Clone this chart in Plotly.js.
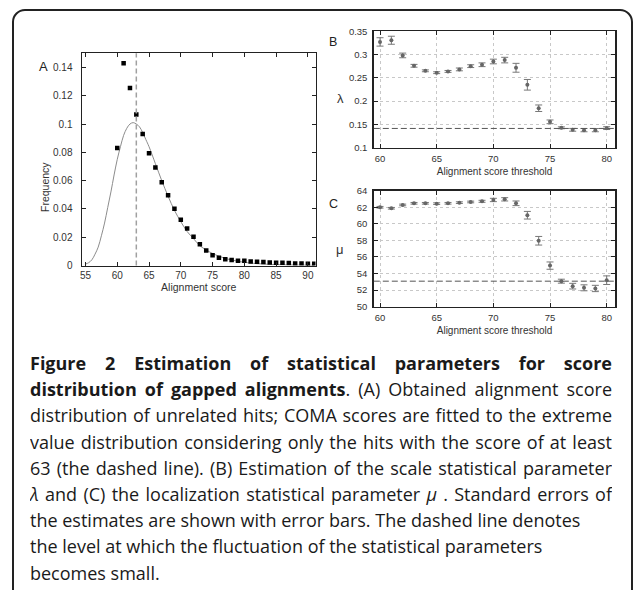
<!DOCTYPE html>
<html>
<head>
<meta charset="utf-8">
<script src="https://cdn.plot.ly/plotly-3.0.1.min.js"></script>
<style>
  html, body { margin: 0; padding: 0; background: #fff; }
  body { width: 637px; height: 590px; position: relative; overflow: hidden; }
  #frame { position: absolute; left: 12px; top: 9px; width: 621px; height: 640px;
           border: 2px solid #222; border-radius: 13px; box-sizing: border-box; }
  #plot { position: absolute; left: 0; top: 0; width: 637px; height: 590px; }
  #caption { position: absolute; left: 30px; top: 350px; width: 582px;
             font-family: "Open Sans", "Noto Sans", sans-serif; font-size: 18px;
             line-height: 26.2px; color: #1a1a1a; }
  #caption .ln { white-space: nowrap; }
  #caption .j { text-align: justify; text-align-last: justify; white-space: normal; height: 26.2px; overflow: hidden; }
  #caption b { font-weight: 700; }
</style>
</head>
<body>
<div id="frame"></div>
<div id="plot"></div>
<div id="caption"></div>
<script>
// ---------- Panel A: alignment score distribution ----------
const scoreA = [60,61,62,63,64,65,66,67,68,69,70,71,72,73,74,75,76,77,78,79,80,81,82,83,84,85,86,87,88,89,90,91];
const freqA  = [0.083,0.143,0.1254,0.1068,0.0929,0.0794,0.0693,0.0589,0.0497,0.0401,0.0323,0.0262,0.0203,0.0151,0.0106,0.0073,0.0054,0.0045,0.0038,0.0033,0.0033,0.0028,0.0026,0.0024,0.0021,0.0019,0.0019,0.0017,0.0014,0.0014,0.0012,0.0012];
const fitX = [55,55.5,56,56.5,57,57.5,58,58.5,59,59.5,60,60.5,61,61.5,62,62.5,63,63.5,64,64.5,65,66,67,68,69,70,71,72,73,74,75,76,77,78,79,80,82,84,86,88,91];
const fitY = [0.001,0.002,0.004,0.008,0.013,0.021,0.030,0.041,0.052,0.064,0.075,0.084,0.092,0.097,0.100,0.101,0.100,0.098,0.094,0.089,0.084,0.072,0.060,0.049,0.039,0.031,0.024,0.019,0.014,0.011,0.0085,0.0066,0.0050,0.0039,0.0030,0.0023,0.0013,0.0008,0.0005,0.0003,0.0001];
const cutoffA = 63;

// ---------- Panels B and C: parameters vs threshold ----------
const threshold = [60,61,62,63,64,65,66,67,68,69,70,71,72,73,74,75,76,77,78,79,80];
const lambdaVal = [0.327,0.3306,0.298,0.2758,0.265,0.261,0.2637,0.268,0.275,0.278,0.285,0.288,0.2715,0.235,0.1847,0.1555,0.1427,0.1384,0.1377,0.1377,0.142];
const lambdaErr = [0.009,0.0086,0.005,0.003,0.002,0.002,0.002,0.003,0.003,0.004,0.005,0.006,0.0095,0.0114,0.007,0.004,0.002,0.003,0.0035,0.0035,0.003];
const lambdaLevel = 0.1413;
const muVal = [62.0,61.88,62.28,62.48,62.48,62.44,62.48,62.56,62.64,62.72,62.88,62.96,62.48,61.04,57.96,54.96,53.08,52.48,52.28,52.2,53.2];
const muErr = [0.1,0.1,0.1,0.1,0.1,0.1,0.1,0.1,0.1,0.12,0.2,0.2,0.28,0.46,0.52,0.44,0.24,0.34,0.36,0.38,0.52];
const muLevel = 53.08;

const xTicksA = [55,60,65,70,75,80,85,90];
const yTicksA = [0,0.02,0.04,0.06,0.08,0.1,0.12,0.14];
const yTickTextA = ['0','0.02','0.04','0.06','0.08','0.1','0.12','0.14'];
const xTicksBC = [60,65,70,75,80];
const yTicksB = [0.1,0.15,0.2,0.25,0.3,0.35];
const yTicksC = [50,52,54,56,58,60,62,64];

const W = 637, H = 590;
const dx = (a,b) => [a/W, b/W];
const dy = (top,bottom) => [1-bottom/H, 1-top/H];

const FAM = 'Liberation Sans, Arial, sans-serif';
const tickFont = {family: FAM, size: 10, color: '#333'};
const tickFontS = {family: FAM, size: 9.5, color: '#333'};
const titleFont = {family: FAM, size: 10.5, color: '#333'};

const baseAx = {showline: true, linecolor: '#222', linewidth: 1.5, mirror: 'allticks',
  ticks: 'inside', ticklen: 4, tickcolor: '#222', zeroline: false, fixedrange: true};

const traces = [
  {x: fitX, y: fitY, type: 'scatter', mode: 'lines', line: {color: '#8c8c8c', width: 1, shape: 'spline'},
   xaxis: 'x', yaxis: 'y', hoverinfo: 'skip'},
  {x: scoreA, y: freqA, type: 'scatter', mode: 'markers',
   marker: {symbol: 'square', size: 4.5, color: '#000'}, xaxis: 'x', yaxis: 'y'},
  {x: threshold, y: lambdaVal, type: 'scatter', mode: 'markers',
   marker: {symbol: 'circle', size: 4, color: '#666'},
   error_y: {type: 'data', array: lambdaErr, visible: true, color: '#777', thickness: 1, width: 3.5},
   xaxis: 'x2', yaxis: 'y2'},
  {x: threshold, y: muVal, type: 'scatter', mode: 'markers',
   marker: {symbol: 'circle', size: 4, color: '#666'},
   error_y: {type: 'data', array: muErr, visible: true, color: '#777', thickness: 1, width: 3.5},
   xaxis: 'x3', yaxis: 'y3'}
];

const layout = {
  width: W, height: H, margin: {l: 0, r: 0, t: 0, b: 0},
  paper_bgcolor: 'rgba(0,0,0,0)', plot_bgcolor: '#fff', showlegend: false,
  xaxis: Object.assign({}, baseAx, {domain: dx(82, 315.5), range: [54.45, 91.2], tickvals: xTicksA,
    tickfont: tickFont, anchor: 'y', showgrid: false, ticklabelstandoff: 0,
    title: {text: 'Alignment score', font: titleFont, standoff: 3}}),
  yaxis: Object.assign({}, baseAx, {domain: dy(53.3, 265.5), range: [0, 0.15], tickvals: yTicksA, ticktext: yTickTextA,
    tickfont: tickFont, anchor: 'x', showgrid: false, ticklabelstandoff: 6}),
  xaxis2: Object.assign({}, baseAx, {domain: dx(373.8, 615.3), range: [59.45, 80.76], tickvals: xTicksBC,
    tickfont: tickFontS, anchor: 'y2', showgrid: true, gridcolor: '#c8c8c8', griddash: 'dot', gridwidth: 1, ticklabelstandoff: 1,
    title: {text: 'Alignment score threshold', font: {family: FAM, size: 10, color: '#333'}, standoff: 5}}),
  yaxis2: Object.assign({}, baseAx, {domain: dy(31.2, 147.7), range: [0.1, 0.35], tickvals: yTicksB,
    tickfont: tickFontS, anchor: 'x2', showgrid: true, gridcolor: '#c8c8c8', griddash: 'dot', gridwidth: 1, ticklabelstandoff: 3}),
  xaxis3: Object.assign({}, baseAx, {domain: dx(373.8, 615.3), range: [59.45, 80.76], tickvals: xTicksBC,
    tickfont: tickFontS, anchor: 'y3', showgrid: true, gridcolor: '#c8c8c8', griddash: 'dot', gridwidth: 1, ticklabelstandoff: 1,
    title: {text: 'Alignment score threshold', font: {family: FAM, size: 10, color: '#333'}, standoff: 5}}),
  yaxis3: Object.assign({}, baseAx, {domain: dy(190.7, 306.7), range: [50, 64], tickvals: yTicksC,
    tickfont: tickFontS, anchor: 'x3', showgrid: true, gridcolor: '#c8c8c8', griddash: 'dot', gridwidth: 1, ticklabelstandoff: 3}),
  shapes: [
    {type: 'line', xref: 'x', yref: 'y domain', x0: cutoffA, x1: cutoffA, y0: 0, y1: 1,
     line: {color: '#a0a0a0', width: 1.5, dash: '5px,3px'}},
    {type: 'line', xref: 'x2 domain', yref: 'y2', x0: 0, x1: 1, y0: lambdaLevel, y1: lambdaLevel,
     line: {color: '#555', width: 1, dash: '6px,3px'}},
    {type: 'line', xref: 'x3 domain', yref: 'y3', x0: 0, x1: 1, y0: muLevel, y1: muLevel,
     line: {color: '#555', width: 1, dash: '6px,3px'}}
  ],
  annotations: [
    {text: 'A', xref: 'paper', yref: 'paper', x: 37/W, y: 1-57/H, showarrow: false, font: {family: FAM, size: 13, color: '#222'}},
    {text: 'B', xref: 'paper', yref: 'paper', x: 333/W, y: 1-33/H, showarrow: false, font: {family: FAM, size: 12.5, color: '#222'}},
    {text: 'C', xref: 'paper', yref: 'paper', x: 333/W, y: 1-195/H, showarrow: false, font: {family: FAM, size: 12.5, color: '#222'}},
    {text: 'Frequency', xref: 'paper', yref: 'paper', x: 37/W, y: 1-160/H, textangle: -90, showarrow: false, font: titleFont},
    {text: 'λ', xref: 'paper', yref: 'paper', x: 341/W, y: 1-89/H, showarrow: false, font: {family: FAM, size: 13, color: '#333'}},
    {text: 'μ', xref: 'paper', yref: 'paper', x: 340/W, y: 1-249/H, showarrow: false, font: {family: FAM, size: 13, color: '#333'}}
  ]
};

Plotly.newPlot('plot', traces, layout, {staticPlot: true, displayModeBar: false});

// ---------- Caption ----------
const captionLines = [
  {html: '<b>Figure 2 Estimation of statistical parameters for score</b>', justify: true},
  {html: '<b>distribution of gapped alignments</b>. (A) Obtained alignment score', justify: true},
  {html: 'distribution of unrelated hits; COMA scores are fitted to the extreme', justify: true},
  {html: 'value distribution considering only the hits with the score of at least', justify: true},
  {html: '63 (the dashed line). (B) Estimation of the scale statistical parameter', justify: true},
  {html: '<i>λ</i> and (C) the localization statistical parameter <i>μ</i> . Standard errors of', justify: true},
  {html: 'the estimates are shown with error bars. The dashed line denotes', justify: false},
  {html: 'the level at which the fluctuation of the statistical parameters', justify: false},
  {html: 'becomes small.', justify: false}
];
const cap = document.getElementById('caption');
captionLines.forEach(l => {
  const d = document.createElement('div');
  d.className = 'ln' + (l.justify ? ' j' : '');
  d.innerHTML = l.html;
  cap.appendChild(d);
});
</script>
</body>
</html>
